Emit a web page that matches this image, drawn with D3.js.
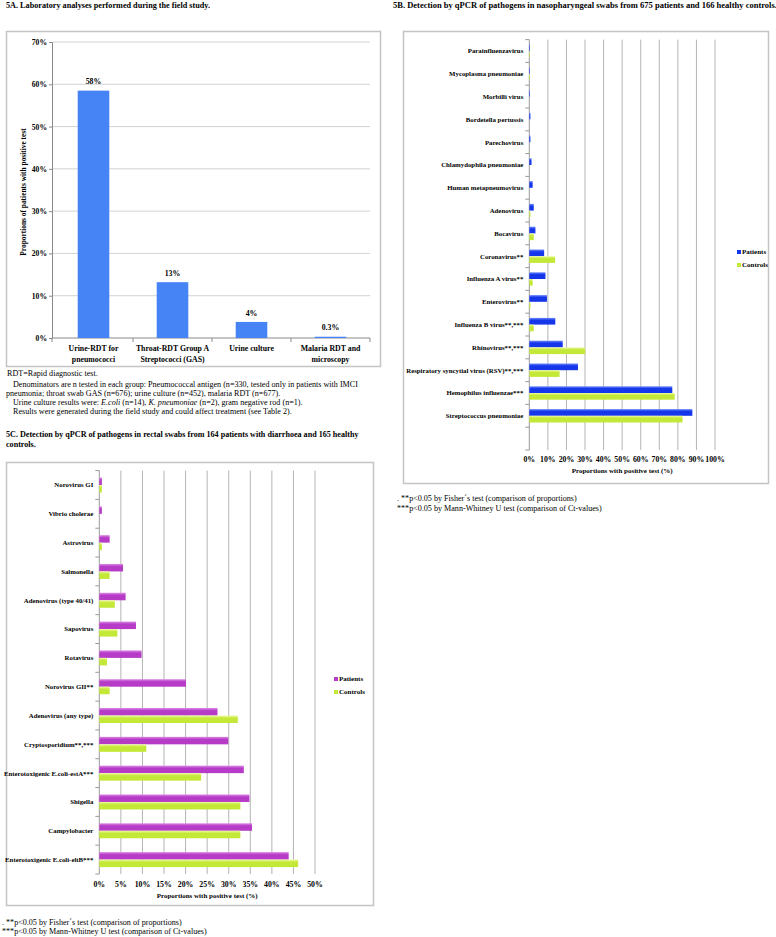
<!DOCTYPE html>
<html><head><meta charset="utf-8">
<script src="https://cdn.jsdelivr.net/npm/d3@7"></script>
<style>
body{margin:0;background:#fff}
svg{display:block}
text{font-family:"Liberation Serif","Times New Roman",serif;fill:#000}
</style>
</head><body>
<svg id="c" width="776" height="937"></svg>
<script>
// ---------- DATA ----------
const labCategories = [["Urine-RDT for","pneumococci"],["Throat-RDT Group A","Streptococci (GAS)"],["Urine culture"],["Malaria RDT and","microscopy"]];
const labValues = [58.5, 13.2, 3.8, 0.3];
const labValueLabels = ["58%","13%","4%","0.3%"];
const labTicks = [0,10,20,30,40,50,60,70];

const npCategories = ["Parainfluenzavirus","Mycoplasma pneumoniae","Morbilli virus","Bordetella pertussis","Parechovirus","Chlamydophila pneumoniae","Human metapneumovirus","Adenovirus","Bocavirus","Coronavirus**","Influenza A virus**","Enterovirus**","Influenza B virus**,***","Rhinovirus**,***","Respiratory syncytial virus (RSV)**,***","Hemophilus influenzae***","Streptococcus pneumoniae"];
const npPatients = [0.3,0.3,0.3,0.6,0.6,1.2,1.8,2.4,3.3,8.0,8.7,9.5,14.0,18.0,26.2,77.0,87.8];
const npControls = [0.3,0.3,0,0,0,0,0,0.6,2.4,13.9,1.8,0.6,2.4,30.1,16.3,78.3,82.5];
const npTicks = [0,10,20,30,40,50,60,70,80,90,100];

const rsCategories = ["Norovirus GI","Vibrio cholerae","Astrovirus","Salmonella","Adenovirus (type 40/41)","Sapovirus","Rotavirus","Norovirus GII**","Adenovirus (any type)","Cryptosporidium**,***","Enterotoxigenic E.coli-estA***","Shigella","Campylobacter","Enterotoxigenic E.coli-eltB***"];
const rsPatients = [0.6,0.6,2.4,5.5,6.1,8.5,9.8,20.1,27.4,29.9,33.5,34.8,35.4,43.9];
const rsControls = [0.6,0,0.6,2.4,3.6,4.2,1.8,2.4,32.1,10.9,23.6,32.7,32.7,46.1];
const rsTicks = [0,5,10,15,20,25,30,35,40,45,50];

const seriesNames = ["Patients","Controls"];

// ---------- DRAW ----------
const svg = d3.select("#c");
const defs = svg.append("defs");
function grad(id, top, main){
  const g = defs.append("linearGradient").attr("id",id).attr("x1",0).attr("y1",0).attr("x2",0).attr("y2",1);
  g.append("stop").attr("offset","0%").attr("stop-color",top);
  g.append("stop").attr("offset","35%").attr("stop-color",main);
  g.append("stop").attr("offset","100%").attr("stop-color",main);
}
grad("gBlue","#6f8cff","#1636ea");
grad("gGreen","#eefaa0","#c3e838");
grad("gPurple","#dc8ae6","#b63bc6");

const gridCol = "#ababab", frameCol = "#c4c4c4";

function text(g, x, y, s, opts={}){
  return g.append("text").attr("x",x).attr("y",y).attr("dy","0.35em")
    .attr("font-size",opts.size||8).attr("font-weight",opts.bold?"bold":"normal")
    .attr("text-anchor",opts.anchor||"start").text(s);
}

// ===== Panel 5A =====
(function(){
  const g = svg.append("g");
  text(g, 6, 5, "5A. Laboratory analyses performed during the field study.", {size:8.2,bold:true});
  g.append("rect").attr("x",6.5).attr("y",31.5).attr("width",374).attr("height",335)
    .attr("fill","none").attr("stroke",frameCol).attr("stroke-width",1.5);
  const y = d3.scaleLinear().domain([0,70]).range([338,42]);
  const x = d3.scaleBand().domain(d3.range(labValues.length)).range([54,370]).paddingInner(0.6).paddingOuter(0.3);
  g.selectAll(".gl").data(labTicks.filter(t=>t>0)).join("line")
    .attr("x1",52).attr("x2",370).attr("y1",d=>y(d)).attr("y2",d=>y(d))
    .attr("stroke","#c6c6c6").attr("stroke-width",0.8);
  const ya = g.append("g").attr("transform","translate(52,0)")
    .call(d3.axisLeft(y).tickValues(labTicks).tickFormat(d=>d+"%").tickSize(3).tickPadding(2));
  ya.select(".domain").attr("stroke","#8a8a8a");
  ya.selectAll(".tick line").attr("stroke","#8a8a8a");
  ya.selectAll(".tick text").attr("font-size",7.6).attr("font-weight","bold").attr("font-family","Liberation Serif");
  g.append("line").attr("x1",52).attr("x2",370).attr("y1",y(0)).attr("y2",y(0)).attr("stroke","#8a8a8a");
  const bounds = [52].concat(d3.range(labValues.length).map(i=>x(i)+x.bandwidth()/2+x.step()/2));
  g.selectAll(".xt").data(bounds).join("line")
    .attr("x1",d=>d).attr("x2",d=>d).attr("y1",y(0)).attr("y2",y(0)+4).attr("stroke","#8a8a8a");
  g.selectAll(".bar").data(labValues).join("rect")
    .attr("x",(d,i)=>x(i)).attr("width",x.bandwidth())
    .attr("y",d=>y(d)).attr("height",d=>y(0)-y(d)).attr("fill","#4683f5");
  labValues.forEach((v,i)=>{
    text(g, x(i)+x.bandwidth()/2, y(v)-9, labValueLabels[i], {size:7.8,bold:true,anchor:"middle"});
    labCategories[i].forEach((s,j)=>text(g, x(i)+x.bandwidth()/2, 348.5+j*10.5, s, {size:7.8,bold:true,anchor:"middle"}));
  });
  g.append("text").attr("transform","translate(23,192) rotate(-90)").attr("dy","0.35em")
    .attr("text-anchor","middle").attr("font-size",7.4).attr("font-weight","bold")
    .text("Proportions of patients with positive test");
  const notes = g.append("g");
  text(notes, 7, 373, "RDT=Rapid diagnostic test.", {size:8.1});
  text(notes, 13, 384, "Denominators are n tested in each group: Pneumococcal antigen (n=330, tested only in patients with IMCI", {size:8.1});
  text(notes, 6, 393, "pneumonia; throat swab GAS (n=676); urine culture (n=452), malaria RDT (n=677).", {size:8.1});
  const t4 = notes.append("text").attr("x",13).attr("y",402).attr("dy","0.35em").attr("font-size",8.1);
  t4.append("tspan").text("Urine culture results were: ");
  t4.append("tspan").attr("font-style","italic").text("E.coli");
  t4.append("tspan").text(" (n=14), ");
  t4.append("tspan").attr("font-style","italic").text("K. pneumoniae");
  t4.append("tspan").text(" (n=2), gram negative rod (n=1).");
  text(notes, 13, 411, "Results were generated during the field study and could affect treatment (see Table 2).", {size:8.1});
})();

// ===== Horizontal grouped bar panels =====
function hPanel(cfg){
  const g = svg.append("g");
  cfg.title.forEach((s,i)=>text(g, cfg.titleX, cfg.titleY + i*10.5, s, {size:cfg.titleSize,bold:true}));
  g.append("rect").attr("x",cfg.frame[0]+0.5).attr("y",cfg.frame[1]+0.5)
    .attr("width",cfg.frame[2]-cfg.frame[0]).attr("height",cfg.frame[3]-cfg.frame[1])
    .attr("fill","none").attr("stroke",frameCol).attr("stroke-width",1.5);
  const x = d3.scaleLinear().domain([0,cfg.max]).range([cfg.x0,cfg.x1]);
  const domain = cfg.categories.concat(cfg.extraBlank ? [" "] : []);
  const y = d3.scaleBand().domain(domain).range([cfg.y0,cfg.y1]);
  const sub = d3.scaleBand().domain(seriesNames).range([0,y.bandwidth()]).paddingOuter(cfg.outer);
  g.selectAll(".gl").data(cfg.ticks.filter(t=>t>0)).join("line")
    .attr("x1",d=>x(d)).attr("x2",d=>x(d)).attr("y1",cfg.y0).attr("y2",cfg.y1)
    .attr("stroke",gridCol).attr("stroke-width",0.9);
  g.append("line").attr("x1",cfg.x0).attr("x2",cfg.x0).attr("y1",cfg.y0).attr("y2",cfg.y1).attr("stroke","#9a9a9a");
  const bnds = domain.map(c=>y(c)).concat([cfg.y1]);
  g.selectAll(".yt").data(bnds).join("line")
    .attr("x1",cfg.x0-4).attr("x2",cfg.x0).attr("y1",d=>d).attr("y2",d=>d).attr("stroke","#9a9a9a");
  const series = [[cfg.patients,cfg.pFill],[cfg.controls,cfg.cFill]];
  series.forEach(([vals,fill],si)=>{
    g.selectAll(".b"+si).data(vals).join("rect")
      .attr("x",cfg.x0).attr("y",(d,i)=>y(cfg.categories[i])+sub(seriesNames[si]))
      .attr("width",d=>x(d)-cfg.x0).attr("height",sub.bandwidth())
      .attr("fill",fill);
  });
  cfg.categories.forEach(c=>text(g, cfg.x0-6, y(c)+y.bandwidth()/2, c, {size:cfg.labSize,bold:true,anchor:"end"}));
  cfg.ticks.forEach(t=>text(g, x(t), cfg.tickY, t+"%", {size:7.8,bold:true,anchor:"middle"}));
  text(g, (cfg.x0+cfg.x1)/2, cfg.tickY+11.5, "Proportions with positive test (%)", {size:7,bold:true,anchor:"middle"});
  const fills = [cfg.pLeg, "#c3e838"];
  seriesNames.forEach((s,i)=>{
    g.append("rect").attr("x",cfg.legX).attr("y",cfg.legY+i*13-2).attr("width",4).attr("height",4).attr("fill",fills[i]);
    text(g, cfg.legX+5, cfg.legY+i*13, s, {size:7,bold:true});
  });
  text(g, cfg.noteX, cfg.noteY, ". **p<0.05 by Fisher´s test (comparison of proportions)", {size:8.1});
  text(g, cfg.noteX, cfg.noteY+cfg.noteGap, "***p<0.05 by Mann-Whitney U test (comparison of Ct-values)", {size:8.1});
}

hPanel({
  title:["5B. Detection by qPCR of pathogens in nasopharyngeal swabs from 675 patients and 166 healthy controls."],
  titleX:393, titleY:5, titleSize:8.5,
  frame:[403,31,768,483],
  x0:529.3, x1:715, max:100, y0:39.6, y1:450, extraBlank:true, outer:0.7,
  categories:npCategories, patients:npPatients, controls:npControls, ticks:npTicks,
  pFill:"url(#gBlue)", cFill:"url(#gGreen)", pLeg:"#1636ea",
  labSize:6.8, tickY:459.5, legX:737, legY:252, noteX:397, noteY:498, noteGap:10
});

hPanel({
  title:["5C. Detection by qPCR of pathogens in rectal swabs from 164 patients with diarrhoea and 165 healthy","controls."],
  titleX:6, titleY:434, titleSize:8.1,
  frame:[6,462,373,905],
  x0:99.3, x1:315, max:50, y0:470.6, y1:874, extraBlank:false, outer:0.92,
  categories:rsCategories, patients:rsPatients, controls:rsControls, ticks:rsTicks,
  pFill:"url(#gPurple)", cFill:"url(#gGreen)", pLeg:"#b63bc6",
  labSize:6.8, tickY:884, legX:334, legY:679, noteX:2, noteY:922, noteGap:9.5
});
</script>
</body></html>
